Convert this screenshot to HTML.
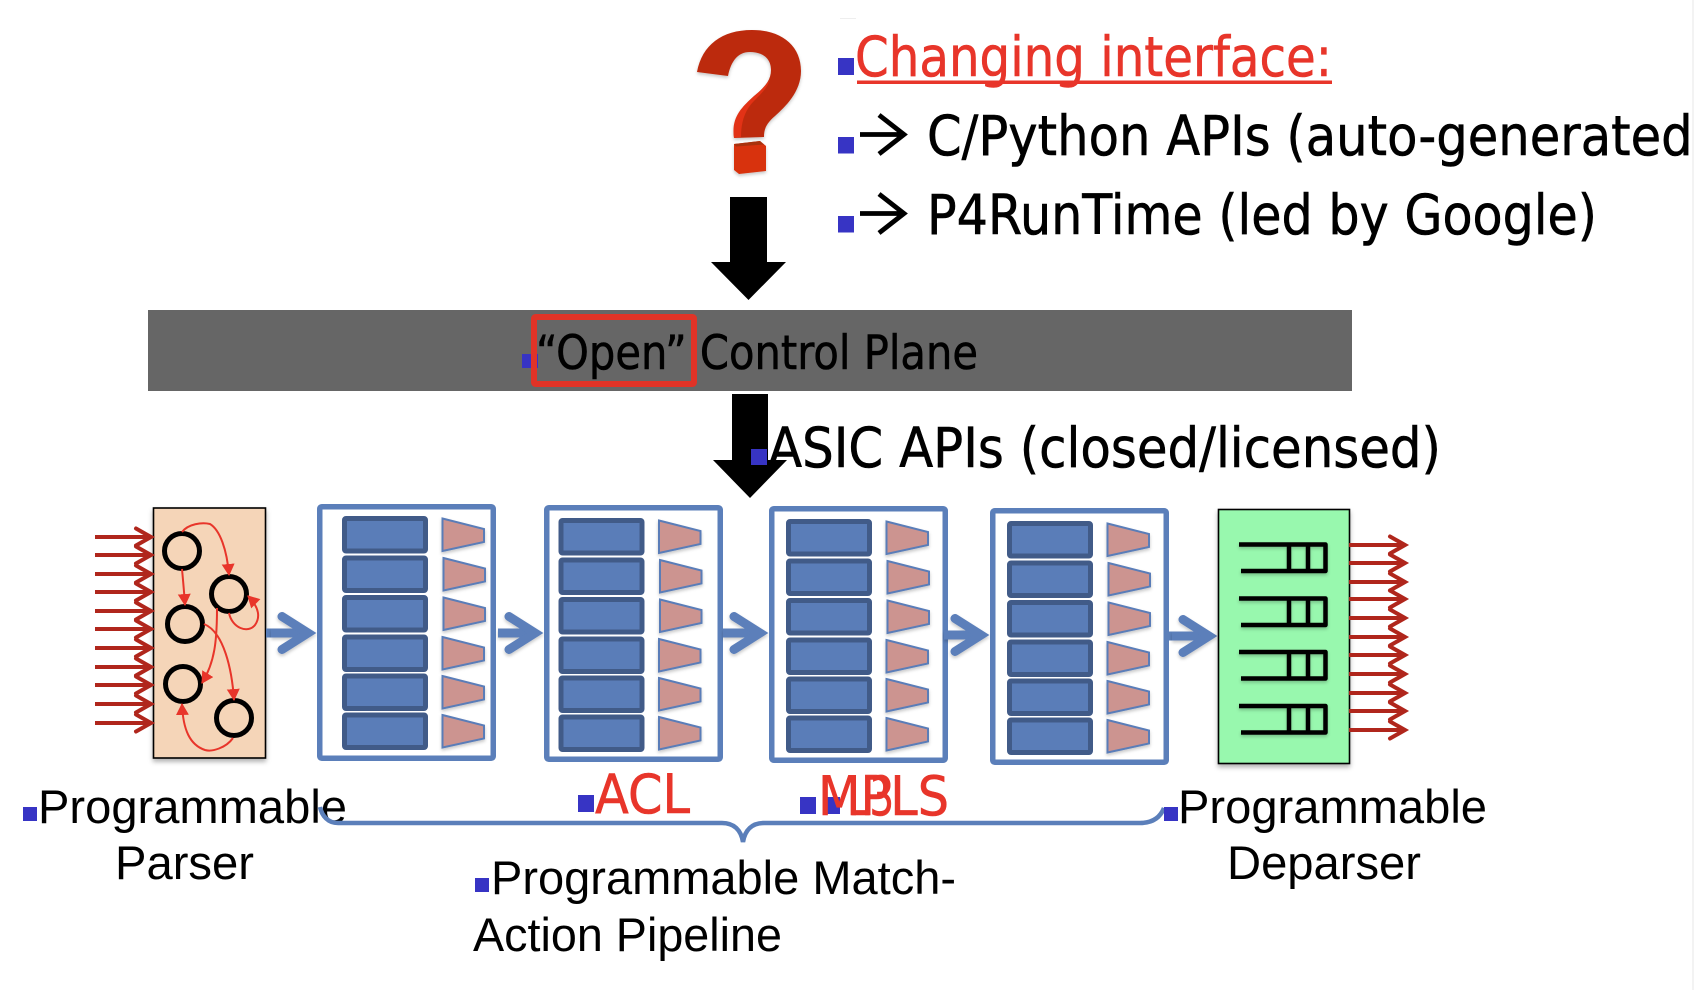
<!DOCTYPE html>
<html>
<head>
<meta charset="utf-8">
<style>
html,body{margin:0;padding:0;background:#fff;width:1694px;height:990px;overflow:hidden}
svg{display:block}
.t{font-family:"DejaVu Sans","Liberation Sans",sans-serif;fill:#000;stroke:#000;stroke-width:.6}
.a{font-family:"Liberation Sans",Arial,sans-serif;fill:#000;font-size:47px}
.t.r{fill:#e8352a;stroke:#e8352a}
.b{fill:#3734c4}
</style>
</head>
<body>
<svg width="1694" height="990" viewBox="0 0 1694 990" xmlns="http://www.w3.org/2000/svg">
<defs>
<filter id="sh" x="-20%" y="-20%" width="140%" height="140%"><feDropShadow dx="0" dy="3" stdDeviation="2.5" flood-color="#000" flood-opacity="0.3"/></filter>
<filter id="sh2" x="-30%" y="-30%" width="160%" height="160%"><feDropShadow dx="0" dy="2" stdDeviation="1.5" flood-color="#000" flood-opacity="0.22"/></filter>
<marker id="rh" markerUnits="userSpaceOnUse" markerWidth="14" markerHeight="14" refX="11" refY="6.5" orient="auto"><path d="M0 0L12 6.5L0 13Z" fill="#e8352a"/></marker>
<g id="bar"><rect x="344.5" y="518.5" width="81" height="32.5" rx="1.5" fill="#5a7db8" stroke="#415b88" stroke-width="5"/></g>
<g id="tr"><path d="M442.5 518.5L484 529V542L442.5 551Z" fill="#cc9490" stroke="#5a7db8" stroke-width="2"/></g>
<g id="frame"><rect x="319.75" y="506.75" width="173.5" height="251.5" rx="2" fill="#fff" stroke="#5b7fba" stroke-width="5.5"/></g>
<g id="inner">
<use href="#bar"/><use href="#bar" y="39.5"/><use href="#bar" y="79"/><use href="#bar" y="118.5"/><use href="#bar" y="157.5"/><use href="#bar" y="196.5"/>
<g filter="url(#sh2)"><use href="#tr"/><use href="#tr" x="1" y="39.5"/><use href="#tr" x="1" y="79"/><use href="#tr" y="118.5"/><use href="#tr" y="157.5"/><use href="#tr" y="196.5"/></g>
</g>
<g id="rarrow"><path d="M0 0H56" stroke="#b0261c" stroke-width="4" fill="none"/><path d="M41 -8.5L56 0L41 8.5" stroke="#b0261c" stroke-width="4" fill="none" stroke-linecap="round"/></g>
<g id="barrow" filter="url(#sh2)"><path d="M-46 0H-8" stroke="#5b7fba" stroke-width="9" fill="none"/><path d="M-35 -16.5L-9 0L-35 16.5" stroke="#5b7fba" stroke-width="9" fill="none" stroke-linecap="round" stroke-linejoin="miter"/></g>
<g id="fifo" filter="url(#sh2)"><path d="M1239 544.5H1325.5V571H1241M1289 544.5V571M1308 544.5V571" stroke="#000" stroke-width="4.5" fill="none" stroke-linejoin="round"/></g>
</defs>

<!-- faint marks -->
<rect x="840" y="18" width="16" height="1" fill="#eee"/>

<!-- question mark -->
<g filter="url(#sh2)">
<path d="M697 72C702 45 722 30 752 30C782 30 801 46 801 71C801 92 785 107 775 116C767 123 764 128 764 137L734 138C732 118 741 108 754 96C765 87 771 80 771 70C771 58 762 52 750 52C738 52 731 61 728 76Z" fill="#bc2b0d"/>
<path d="M734 138C731 118 741 108 752 98C760 91 766 86 770 79C768 87 762 93 754 101C745 110 741 122 741 137Z" fill="#e23112"/>
<path d="M734 144L760 141L766 146V171L739 174L734 170Z" fill="#d83010"/>
<path d="M734 144L760 141L764 144.500L736 146.500Z" fill="#a8300f"/>
</g>

<!-- top text -->
<rect class="b" x="838" y="58" width="16" height="17"/>
<text class="t r" x="855" y="76" font-size="55" textLength="477" lengthAdjust="spacingAndGlyphs">Changing interface:</text>
<rect x="857" y="80.5" width="475" height="3.5" fill="#e8352a"/>
<rect class="b" x="838" y="137" width="16" height="16.500"/>
<path d="M860 134.500H904M879 115L904 134.500L879 154" stroke="#000" stroke-width="4.800" fill="none"/>
<text class="t" x="927" y="155" font-size="55" textLength="785" lengthAdjust="spacingAndGlyphs">C/Python APIs (auto-generated)</text>
<rect class="b" x="838" y="216" width="16" height="16.500"/>
<path d="M860 213.500H904M879 194L904 213.500L879 233" stroke="#000" stroke-width="4.800" fill="none"/>
<text class="t" x="927" y="234" font-size="55" textLength="670" lengthAdjust="spacingAndGlyphs">P4RunTime (led by Google)</text>
<rect x="1692" y="0" width="2" height="990" fill="#f3f3f3"/>

<!-- big arrow 1 -->
<path d="M730 197H767V262H786L748.5 300L711 262H730Z" fill="#000"/>

<!-- control plane -->
<rect x="148" y="310" width="1204" height="81" fill="#666"/>
<rect class="b" x="522" y="354" width="16" height="14"/>
<text class="t" x="536" y="369" font-size="47" textLength="442" lengthAdjust="spacingAndGlyphs">“Open” Control Plane</text>
<rect x="534" y="317" width="160" height="67" rx="1.5" fill="none" stroke="#e03327" stroke-width="6"/>

<!-- big arrow 2 -->
<path d="M732 394H768V460H787L750 498L713 460H732Z" fill="#000"/>
<rect class="b" x="751" y="449" width="16" height="16"/>
<text class="t" x="768" y="467" font-size="55" textLength="673" lengthAdjust="spacingAndGlyphs">ASIC APIs (closed/licensed)</text>

<!-- parser -->
<rect x="153.5" y="508" width="112" height="250" fill="#f5d5b8" stroke="#000" stroke-width="1.6" filter="url(#sh)"/>
<g>
<use href="#rarrow" x="95" y="537"/><use href="#rarrow" x="95" y="555"/><use href="#rarrow" x="95" y="574"/><use href="#rarrow" x="95" y="592"/><use href="#rarrow" x="95" y="611"/><use href="#rarrow" x="95" y="629"/><use href="#rarrow" x="95" y="648"/><use href="#rarrow" x="95" y="667"/><use href="#rarrow" x="95" y="685"/><use href="#rarrow" x="95" y="704"/><use href="#rarrow" x="95" y="723"/>
</g>
<g fill="none" stroke="#000" stroke-width="5">
<circle cx="182" cy="551" r="17.5"/><circle cx="229" cy="594" r="17.5"/><circle cx="185" cy="624" r="17.5"/><circle cx="183" cy="684" r="17.5"/><circle cx="234" cy="718" r="17.5"/>
</g>
<g fill="none" stroke="#e8352a" stroke-width="2">
<path d="M182 532C188 524 202 522 210 524C220 530 227 550 229 575" marker-end="url(#rh)"/>
<path d="M182 569C183 580 184 590 185 605" marker-end="url(#rh)"/>
<path d="M229 613C232 628 248 634 255 625C260 618 260 608 248 596" marker-end="url(#rh)"/>
<path d="M217 608C217 640 215 662 202 683" marker-end="url(#rh)"/>
<path d="M204 624C224 632 232 670 234 700" marker-end="url(#rh)"/>
<path d="M233 738C226 748 212 752 205 750C190 745 183 730 182 704" marker-end="url(#rh)"/>
</g>

<!-- match-action tables -->
<use href="#frame"/><use href="#inner"/>
<use href="#frame" x="227" y="1"/><use href="#inner" x="216.5" y="2"/>
<use href="#frame" x="452" y="2"/><use href="#inner" x="444" y="3"/>
<use href="#frame" x="673" y="4"/><use href="#inner" x="665" y="5"/>

<!-- blue arrows -->
<rect x="266" y="628.5" width="10" height="9" fill="#5b7fba"/>
<use href="#barrow" x="317" y="633"/>
<use href="#barrow" x="544" y="633"/>
<use href="#barrow" x="769" y="633"/>
<use href="#barrow" x="990" y="635"/>
<rect x="1167" y="631.5" width="10" height="9" fill="#5b7fba"/>
<use href="#barrow" x="1218" y="636"/>

<!-- deparser -->
<rect x="1218.5" y="509.5" width="131" height="254" fill="#98f8ae" stroke="#000" stroke-width="1.6" filter="url(#sh)"/>
<use href="#fifo"/><use href="#fifo" y="54"/><use href="#fifo" y="107.5"/><use href="#fifo" y="161.5"/>
<g>
<use href="#rarrow" x="1349" y="545"/><use href="#rarrow" x="1349" y="563"/><use href="#rarrow" x="1349" y="582"/><use href="#rarrow" x="1349" y="599"/><use href="#rarrow" x="1349" y="618"/><use href="#rarrow" x="1349" y="637"/><use href="#rarrow" x="1349" y="655"/><use href="#rarrow" x="1349" y="674"/><use href="#rarrow" x="1349" y="693"/><use href="#rarrow" x="1349" y="711"/><use href="#rarrow" x="1349" y="730"/>
</g>

<!-- lower labels -->
<rect class="b" x="23" y="807" width="14" height="14"/>
<text class="a" x="38" y="823" textLength="309" lengthAdjust="spacingAndGlyphs">Programmable</text>
<text class="a" x="115" y="879" textLength="139" lengthAdjust="spacingAndGlyphs">Parser</text>

<path d="M320 807C322 816 328 823 338 823H722C734 823 741 830 743 842C745 830 752 823 764 823H1140C1152 823 1160 818 1164 808" fill="none" stroke="#5b7fba" stroke-width="4.5"/>

<rect class="b" x="578" y="795" width="16" height="17"/>
<text class="t r" x="595" y="813" font-size="54" textLength="95" lengthAdjust="spacingAndGlyphs">ACL</text>
<rect class="b" x="800" y="797" width="16" height="17"/>
<rect class="b" x="825" y="797" width="15" height="17"/>
<text class="t r" x="818" y="815" font-size="54" textLength="131" lengthAdjust="spacingAndGlyphs">MPLS</text>
<text class="t r" x="848" y="815" font-size="54" textLength="46" lengthAdjust="spacingAndGlyphs">L3</text>

<rect class="b" x="1164" y="807" width="14" height="14"/>
<text class="a" x="1178" y="823" textLength="309" lengthAdjust="spacingAndGlyphs">Programmable</text>
<text class="a" x="1227" y="879" textLength="194" lengthAdjust="spacingAndGlyphs">Deparser</text>

<rect class="b" x="475" y="878" width="14" height="14"/>
<text class="a" x="491" y="894" textLength="465" lengthAdjust="spacingAndGlyphs">Programmable Match-</text>
<text class="a" x="473" y="951" textLength="309" lengthAdjust="spacingAndGlyphs">Action Pipeline</text>
</svg>
</body>
</html>
